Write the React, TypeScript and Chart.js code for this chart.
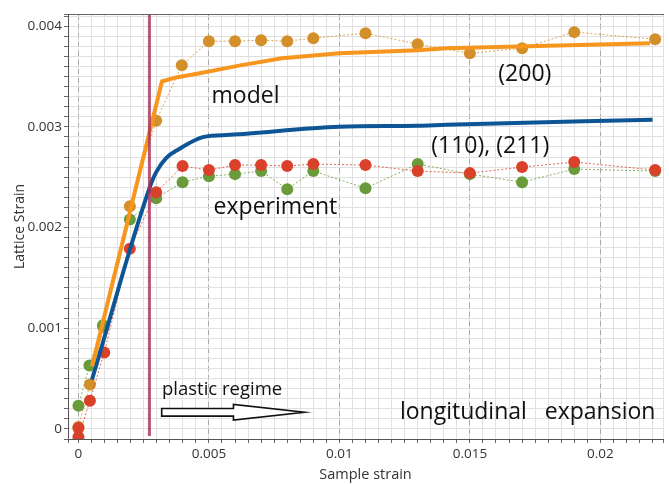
import React, { useEffect, useRef } from 'react';
import { Chart, registerables } from 'chart.js';

Chart.register(...registerables);

const FONT = '"Open Sans", "Noto Sans", sans-serif';

// Experimental (200) reflection
const exp200X = [0, 0.00044, 0.00096, 0.00197, 0.00298, 0.00396, 0.005, 0.006, 0.007, 0.008, 0.009, 0.011, 0.013, 0.015, 0.017, 0.019, 0.0221];
const exp200Y = [0.00002, 0.00044, 0.00101, 0.00221, 0.00306, 0.00361, 0.00385, 0.00385, 0.00386, 0.00385, 0.00388, 0.00393, 0.00382, 0.00373, 0.00378, 0.00394, 0.00387];

// Experimental (110)
const expGreenX = [0, 0.00042, 0.00094, 0.00197, 0.00298, 0.00399, 0.005, 0.006, 0.007, 0.008, 0.009, 0.011, 0.013, 0.015, 0.017, 0.019, 0.0221];
const expGreenY = [0.00023, 0.00063, 0.00103, 0.00208, 0.00229, 0.00245, 0.00251, 0.00253, 0.00256, 0.00238, 0.00256, 0.00239, 0.00263, 0.00253, 0.00245, 0.00258, 0.00256];

// Experimental (211)
const expRedX = [0, 0, 0.00044, 0.00099, 0.00197, 0.00298, 0.00399, 0.005, 0.006, 0.007, 0.008, 0.009, 0.011, 0.013, 0.015, 0.017, 0.019, 0.0221];
const expRedY = [0.00001, -0.00008, 0.00028, 0.00076, 0.00179, 0.00235, 0.00261, 0.00257, 0.00262, 0.00262, 0.00261, 0.00263, 0.00262, 0.00256, 0.00254, 0.0026, 0.00265, 0.00257];

// Model (200)
const model200X = [0.00052, 0.0032, 0.00374, 0.0046, 0.0058, 0.0062, 0.0078, 0.01, 0.013, 0.0141, 0.0219];
const model200Y = [0.00062, 0.00345, 0.00349, 0.00353, 0.00359, 0.00361, 0.00368, 0.00373, 0.00376, 0.00378, 0.00383];

// Model (110), (211)
const model110X = [0.00052, 0.00279, 0.00298, 0.00336, 0.00386, 0.0048, 0.0058, 0.01, 0.013, 0.0141, 0.022];
const model110Y = [0.00049, 0.00244, 0.00255, 0.00269, 0.00278, 0.0029, 0.00292, 0.003, 0.00301, 0.00302, 0.00307];

// Yield marker
const yieldX = [0.00272, 0.00272];
const yieldY = [-0.00007, 0.00411];

// Axis ranges / ticks
const xMin = -0.0004;
const xMax = 0.0224;
const xMinorStep = 0.0005;
const xMajorStep = 0.005;
const yMin = -0.0001;
const yMax = 0.00412;
const yMinorStep = 0.0001;
const yMajorStep = 0.001;

// Annotation texts (data coords of text start / baseline)
const noteTexts = ['model', '(200)', '(110), (211)', 'experiment', 'plastic regime', 'longitudinal   expansion'];
const noteX = [0.0051, 0.01609, 0.01352, 0.00518, 0.0032, 0.01232];
const noteY = [0.003233, 0.003455, 0.00274, 0.002131, 0.000332, 0.0000986];
const noteSizes = [23, 23, 23, 23, 18.5, 23];

// Arrow: start, head base, tip; y
const arrowX = [0.00319, 0.00594, 0.00866];
const arrowY = 0.000165;

const pts = (xs: number[], ys: number[]) => xs.map((x, i) => ({ x, y: ys[i] }));
const isMajor = (v: number, step: number) => Math.abs(v / step - Math.round(v / step)) < 1e-6;
const fmt = (v: number, step: number) => String(parseFloat((Math.round(v / step) * step).toFixed(4)));

const annotationPlugin = {
  id: 'notes',
  afterDatasetsDraw(chart: any) {
    const { ctx } = chart;
    const xs = chart.scales.x;
    const ys = chart.scales.y;
    ctx.save();
    ctx.fillStyle = '#111';
    ctx.textBaseline = 'alphabetic';
    ctx.textAlign = 'left';
    noteTexts.forEach((t, i) => {
      ctx.font = `${noteSizes[i]}px ${FONT}`;
      ctx.fillText(t, xs.getPixelForValue(noteX[i]), ys.getPixelForValue(noteY[i]));
    });
    // hollow arrow
    const x0 = xs.getPixelForValue(arrowX[0]);
    const x1 = xs.getPixelForValue(arrowX[1]);
    const x2 = xs.getPixelForValue(arrowX[2]);
    const yc = ys.getPixelForValue(arrowY);
    const bh = 3.8;
    const hh = 7.8;
    ctx.beginPath();
    ctx.moveTo(x0, yc - bh);
    ctx.lineTo(x1, yc - bh);
    ctx.lineTo(x1, yc - hh);
    ctx.lineTo(x2, yc);
    ctx.lineTo(x1, yc + hh);
    ctx.lineTo(x1, yc + bh);
    ctx.lineTo(x0, yc + bh);
    ctx.closePath();
    ctx.fillStyle = '#fff';
    ctx.fill();
    ctx.lineWidth = 1.6;
    ctx.strokeStyle = '#111';
    ctx.stroke();
    ctx.restore();
  },
};

export default function App() {
  const ref = useRef<HTMLCanvasElement | null>(null);
  useEffect(() => {
    document.body.style.margin = '0';
    const canvas = ref.current;
    if (!canvas) return;
    const expLine = (label: string, xs: number[], ys: number[], point: string, line: string) => ({
      label,
      data: pts(xs, ys),
      showLine: true,
      borderColor: line,
      borderWidth: 1,
      borderDash: [2, 2],
      backgroundColor: point,
      pointBackgroundColor: point,
      pointBorderWidth: 0,
      pointRadius: 6,
    });
    const chart = new Chart(canvas, {
      type: 'scatter',
      data: {
        datasets: [
          {
            label: 'yield',
            data: pts(yieldX, yieldY),
            showLine: true,
            borderColor: 'rgba(165, 45, 85, 0.8)',
            borderWidth: 3,
            pointRadius: 0,
          } as any,
          {
            label: 'model (200)',
            data: pts(model200X, model200Y),
            showLine: true,
            borderColor: '#f7961e',
            borderWidth: 4,
            pointRadius: 0,
          },
          {
            label: 'model (110),(211)',
            data: pts(model110X, model110Y),
            showLine: true,
            borderColor: '#0e5596',
            borderWidth: 4,
            pointRadius: 0,
            cubicInterpolationMode: 'monotone',
          },
          expLine('exp (211)', expRedX, expRedY, '#d9412b', 'rgba(217,65,43,0.8)'),
          expLine('exp (110)', expGreenX, expGreenY, '#6a9b3a', 'rgba(106,155,58,0.8)'),
          expLine('exp (200)', exp200X, exp200Y, '#d38f2a', 'rgba(211,143,42,0.8)'),
        ],
      },
      options: {
        responsive: false,
        animation: false,
        layout: { padding: { top: 14, right: 0, left: 0, bottom: 0 } },
        plugins: { legend: { display: false }, tooltip: { enabled: false } },
        scales: {
          x: {
            type: 'linear',
            position: 'bottom',
            min: xMin,
            max: xMax,
            afterFit: (s: any) => { s.height = 45; },
            ticks: {
              stepSize: xMinorStep,
              autoSkip: false,
              maxRotation: 0,
              minRotation: 0,
              padding: 3,
              color: '#333',
              font: (c: any) => ({ family: FONT, size: c.tick && isMajor(c.tick.value, xMajorStep) ? 13.5 : 1 }),
              callback: (v: any) => (isMajor(Number(v), xMajorStep) ? fmt(Number(v), xMajorStep) : ''),
            },
            grid: { color: '#e0e0e0', lineWidth: 1, tickLength: 4, tickColor: '#666' },
            border: { color: '#555', width: 1 },
            title: { display: true, text: 'Sample strain', color: '#333', font: { family: FONT, size: 14.5 }, padding: { top: 0, bottom: 0 } },
          },
          x2: {
            type: 'linear',
            position: 'top',
            min: xMin,
            max: xMax,
            ticks: { display: false, stepSize: xMajorStep, includeBounds: false, autoSkip: false },
            grid: { color: '#a8a8a8', lineWidth: 1, drawTicks: false },
            border: { color: '#666', width: 1, dash: [5, 4] },
          },
          y: {
            type: 'linear',
            min: yMin,
            max: yMax,
            afterFit: (s: any) => { s.width = 68; },
            ticks: {
              stepSize: yMinorStep,
              autoSkip: false,
              padding: 2,
              color: '#333',
              font: (c: any) => ({ family: FONT, size: c.tick && isMajor(c.tick.value, yMajorStep) ? 13.5 : 1 }),
              callback: (v: any) => (isMajor(Number(v), yMajorStep) ? fmt(Number(v), yMajorStep) : ''),
            },
            grid: { color: '#e0e0e0', lineWidth: 1, tickLength: 4, tickColor: '#666' },
            border: { color: '#555', width: 1 },
            title: { display: true, text: 'Lattice Strain', color: '#333', font: { family: FONT, size: 14 }, padding: { top: 12, bottom: 0 } },
          },
        },
      },
      plugins: [annotationPlugin],
    });
    return () => chart.destroy();
  }, []);
  return (
    <div style={{ width: 669, height: 484 }}>
      <canvas ref={ref} width={669} height={484} />
    </div>
  );
}
